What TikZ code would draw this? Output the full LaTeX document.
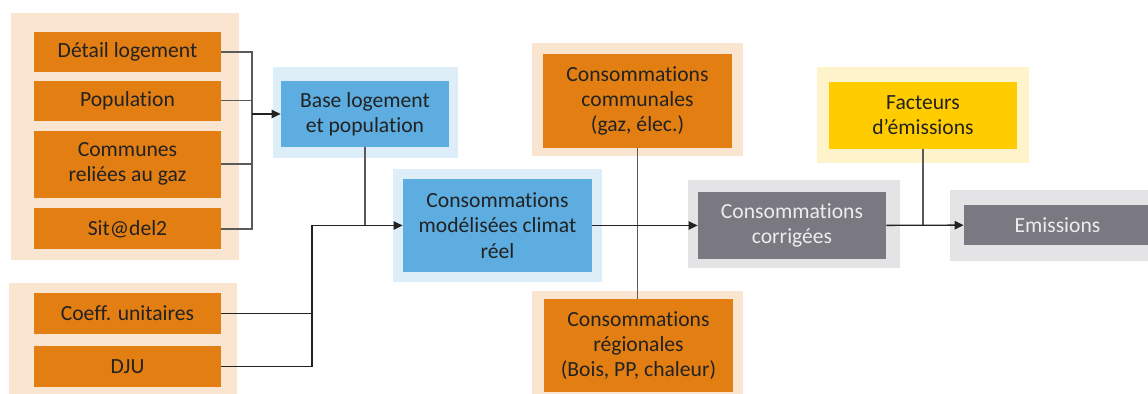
\documentclass[tikz,border=0pt]{standalone}
\usepackage{fontspec}
\setmainfont{Carlito}[Ligatures=NoCommon]
\usetikzlibrary{arrows.meta,positioning}
\definecolor{orng}{HTML}{E37E12}
\definecolor{peachbg}{HTML}{FAE6D0}
\definecolor{blu}{HTML}{5DADE0}
\definecolor{blubg}{HTML}{DDEEF9}
\definecolor{gry}{HTML}{7A7982}
\definecolor{grybg}{HTML}{E4E4E6}
\definecolor{yel}{HTML}{FFCC00}
\definecolor{yelbg}{HTML}{FFF3CC}
\definecolor{txt}{HTML}{222222}
\definecolor{lntxt}{HTML}{EDEDED}
\definecolor{lngry}{HTML}{5A5A5A}

\begin{document}
\begin{tikzpicture}[x=0.5pt, y=-0.5pt, font=\fontsize{10.8}{12.6}\selectfont,
      halo/.style={fill=#1, inner sep=0pt},
      box/.style={fill=#1, text=txt, align=center, inner sep=0pt, minimum width=94pt},
      gbox/.style={box=gry, text=lntxt},
      ln/.style={draw=lngry, line width=0.7pt},
      ar/.style={draw=txt, line width=0.7pt, -{Triangle[length=4.5pt, width=4.2pt]}}]
    \useasboundingbox (0,0) rectangle (1148,394);
    % halos
    \node[halo=peachbg, minimum width=114pt, minimum height=123.5pt] (gA) at (125,136.5) {};
    \node[halo=peachbg, minimum width=114pt, minimum height=58.5pt] (gB) at (123,341.5) {};
    \node[halo=blubg, minimum width=92.5pt, minimum height=45.5pt] (gBase) at (365.5,112.5) {};
    \node[halo=blubg, minimum width=104.5pt, minimum height=56.5pt] (gMod) at (497.5,225.5) {};
    \node[halo=peachbg, minimum width=105.5pt, minimum height=56.5pt] (gCmn) at (637.5,99.5) {};
    \node[halo=peachbg, minimum width=105.5pt, minimum height=56.5pt] (gReg) at (637.5,347.5) {};
    \node[halo=grybg, minimum width=106pt, minimum height=44pt] (gCor) at (794,224) {};
    \node[halo=yelbg, minimum width=106pt, minimum height=48pt] (gFac) at (923,115) {};
    \node[halo=grybg, minimum width=107pt, minimum height=35.5pt] (gEmi) at (1057,225.5) {};
    % inputs
    \node[box=orng, minimum width=93.5pt, minimum height=20pt] (det) at (127.5,52) {Détail logement};
    \node[box=orng, minimum width=93.5pt, minimum height=20pt, below=4pt of det] (pop) {Population};
    \node[box=orng, minimum width=93.5pt, minimum height=33.5pt, below=4.5pt of pop] (com) {Communes\\reliées au gaz};
    \node[box=orng, minimum width=93.5pt, minimum height=20.5pt, below=5pt of com] (sit) {Sit@del2};
    \node[box=orng, minimum width=93.5pt, minimum height=20.5pt] (coe) at (127.5,313.5) {Coeff. unitaires};
    \node[box=orng, minimum width=93.5pt, minimum height=20.5pt, below=5.5pt of coe] (dju) {DJU};
    % chain
    \node[box=blu, minimum width=84pt, minimum height=33pt] (base) at (365,114) {Base logement\\et population};
    \node[box=blu, minimum width=94.5pt, minimum height=46.5pt] (mod) at (497.5,225.5) {Consommations\\modélisées climat\\réel};
    \node[box=orng, minimum width=94.5pt, minimum height=47pt] (cmn) at (637.5,101) {Consommations\\communales\\(gaz, élec.)};
    \node[box=orng, minimum width=94.5pt, minimum height=46.5pt] (reg) at (638.5,345.5) {Consommations\\régionales\\(Bois, PP, chaleur)};
    \node[gbox, minimum height=33.5pt] (cor) at (792,225.5) {Consommations\\corrigées};
    \node[box=yel, minimum height=33.5pt] (fac) at (923,115.5) {Facteurs\\d’émissions};
    \node[gbox, minimum width=93.5pt, minimum height=20pt] (emi) at (1057.5,225) {Emissions};
    % connectors
    \coordinate (j1) at (252,114);
    \coordinate (j2) at (312,225.5);
    \draw[ln] (det.east) -| (j1); \draw[ln] (pop.east) -| (j1);
    \draw[ln] (com.east) -| (j1); \draw[ln] (sit.east) -| (j1);
    \draw[ar] (j1) -- (base);
    \draw[ln, draw=txt] (coe.east) -| (j2); \draw[ln, draw=txt] (dju.east) -| (j2);
    \draw[ln] (base.south) -- (base.south |- j2);
    \draw[ar] (j2) -- (mod);
    \draw[ln] (cmn.south) -- (cmn.south |- reg.north);
    \draw[ar] (mod) -- (cor);
    \draw[ln] (fac.south) -- (fac.south |- cor.east);
    \draw[ar] (cor) -- (emi);
  \end{tikzpicture}
\end{document}
